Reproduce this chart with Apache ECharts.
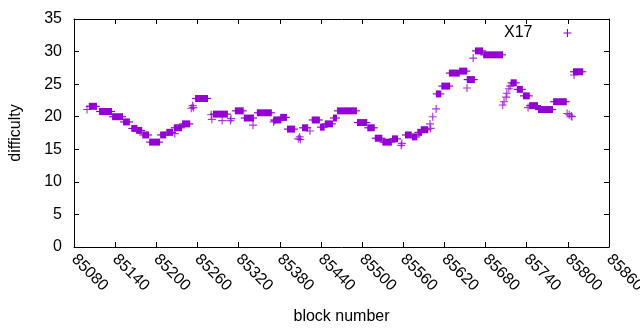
<!DOCTYPE html>
<html>
<head>
<meta charset="utf-8">
<script src="https://cdn.jsdelivr.net/npm/echarts@6/dist/echarts.min.js"></script>
<style>
  html, body { margin: 0; background: #fff; }
  #chart { width: 640px; height: 330px; }
</style>
</head>
<body>
<div id="chart"></div>
<script>
const seriesName = 'X17';

// spans of blocks where the difficulty stays the same
const runStart = [85103, 85118, 85137, 85153, 85165, 85172, 85181, 85191, 85207, 85216,
  85227, 85239, 85258, 85284, 85316, 85329, 85348, 85372, 85382, 85392,
  85414, 85428, 85440, 85447, 85459, 85465, 85494, 85509, 85520, 85531,
  85545, 85564, 85574, 85582, 85587, 85609, 85617, 85628, 85643, 85654,
  85666, 85678, 85718, 85727, 85736, 85745, 85758, 85780, 85809];
const runEnd = [85112, 85134, 85150, 85160, 85171, 85178, 85188, 85204, 85213, 85223,
  85236, 85248, 85274, 85303, 85326, 85341, 85367, 85381, 85389, 85401,
  85420, 85437, 85444, 85456, 85462, 85491, 85506, 85517, 85528, 85542,
  85551, 85571, 85579, 85586, 85595, 85614, 85627, 85641, 85652, 85663,
  85675, 85704, 85724, 85733, 85743, 85755, 85777, 85797, 85821];
const runValue = [21.6, 20.8, 20.0, 19.2, 18.2, 17.9, 17.2, 16.1, 17.2, 17.6,
  18.3, 18.9, 22.8, 20.4, 20.9, 19.8, 20.6, 19.5, 19.9, 18.1,
  18.3, 19.5, 18.4, 18.9, 19.8, 20.9, 19.1, 18.3, 16.7, 16.1,
  16.6, 17.2, 16.9, 17.6, 18.0, 23.5, 24.7, 26.7, 27.0, 25.7,
  30.1, 29.5, 25.2, 24.2, 23.2, 21.7, 21.1, 22.3, 26.9];

// single blocks
const pointBlock = [85099, 85227, 85251, 85253, 85254, 85280, 85281, 85296, 85308, 85309,
  85341, 85371, 85373, 85407, 85409, 85410, 85424, 85557, 85558, 85599,
  85600, 85603, 85608, 85653, 85662, 85705, 85707, 85710, 85711, 85714,
  85716, 85742, 85799, 85802, 85805, 85806, 85809];
const pointValue = [21.1, 17.4, 21.3, 21.7, 21.4, 20.3, 19.6, 19.4, 19.4, 19.7,
  18.7, 19.2, 19.4, 16.6, 16.9, 16.5, 17.8, 15.6, 15.9, 18.9,
  18.2, 20.0, 21.2, 24.4, 29.0, 21.8, 22.3, 23.0, 23.6, 24.3,
  24.7, 21.4, 20.5, 20.3, 20.1, 20.0, 26.4];

const xMin = 85080, xMax = 85860, xStep = 60;
const yMin = 0, yMax = 35, yStep = 5;

const purple = '#9400d3';
const font = '"Liberation Sans", Arial, sans-serif';
const plus = 'path://M3,0h1v3h3v1h-3v3h-1v-3h-3v-1h3z';

const runs = runStart.map((s, i) => [s, runEnd[i], runValue[i]]);
const points = pointBlock.map((b, i) => [b, pointValue[i]]);

// a run is many "+" marks packed tight: a solid bar with the arms sticking out
function renderRun(params, api) {
  const a = api.coord([api.value(0), api.value(2)]);
  const b = api.coord([api.value(1), api.value(2)]);
  return {
    type: 'group',
    children: [
      { type: 'rect', shape: { x: a[0] - 1, y: a[1] - 3.5, width: b[0] - a[0] + 2, height: 7 }, style: { fill: purple } },
      { type: 'rect', shape: { x: a[0] - 4, y: a[1] - 0.6, width: b[0] - a[0] + 8, height: 1.2 }, style: { fill: purple } }
    ]
  };
}

const chart = echarts.init(document.getElementById('chart'), null, { renderer: 'canvas' });

const tickStyle = { inside: true, length: 5, lineStyle: { color: '#000' } };
const lineStyle = { show: true, onZero: false, lineStyle: { color: '#000', width: 1 } };

chart.setOption({
  animation: false,
  textStyle: { fontFamily: font },
  grid: { left: 74, right: 31, top: 19, bottom: 83, containLabel: false, outerBoundsMode: 'none' },
  legend: {
    left: 499, top: 20,
    align: 'right',
    itemWidth: 8, itemHeight: 8,
    textStyle: { fontSize: 16, color: '#000', fontFamily: font, padding: [0, 26, 0, 0] },
    data: [{ name: seriesName, icon: plus, itemStyle: { color: purple } }]
  },
  xAxis: [{
    type: 'value', min: xMin, max: xMax, interval: xStep,
    name: 'block number', nameLocation: 'middle', nameGap: 62,
    nameTextStyle: { fontSize: 16, color: '#000', fontFamily: font },
    axisLine: lineStyle, axisTick: tickStyle, splitLine: { show: false },
    axisLabel: { rotate: -45, fontSize: 16, color: '#000', margin: 10, fontFamily: font, formatter: v => String(v) }
  }, {
    type: 'value', min: xMin, max: xMax, interval: xStep, position: 'top',
    axisLine: lineStyle, axisTick: tickStyle, splitLine: { show: false }, axisLabel: { show: false }
  }],
  yAxis: [{
    type: 'value', min: yMin, max: yMax, interval: yStep,
    name: 'difficulty', nameLocation: 'middle', nameGap: 50, nameRotate: 90,
    nameTextStyle: { fontSize: 16, color: '#000', fontFamily: font },
    axisLine: lineStyle, axisTick: tickStyle, splitLine: { show: false },
    axisLabel: { fontSize: 16, color: '#000', margin: 12, fontFamily: font }
  }, {
    type: 'value', min: yMin, max: yMax, interval: yStep, position: 'right',
    axisLine: lineStyle, axisTick: tickStyle, splitLine: { show: false }, axisLabel: { show: false }
  }],
  series: [{
    name: seriesName,
    type: 'custom',
    renderItem: renderRun,
    encode: { x: [0, 1], y: 2 },
    itemStyle: { color: purple },
    data: runs
  }, {
    name: seriesName,
    type: 'scatter',
    symbol: plus,
    symbolSize: 8,
    itemStyle: { color: purple },
    data: points
  }]
});
</script>
</body>
</html>
